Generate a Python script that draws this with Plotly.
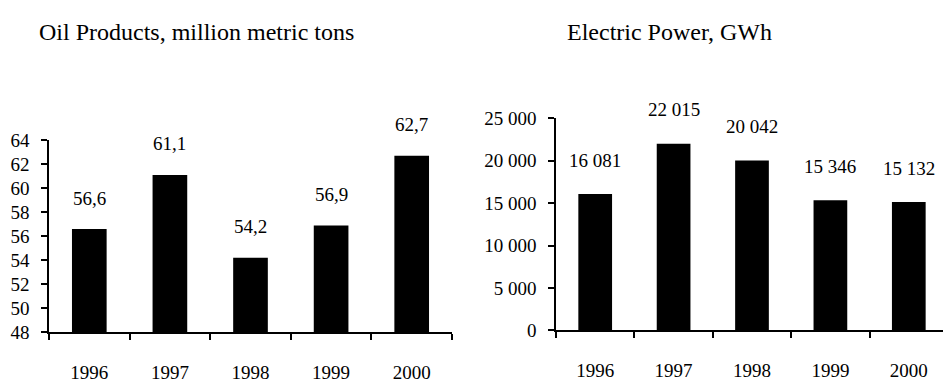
import plotly.graph_objects as go

years = ["1996", "1997", "1998", "1999", "2000"]
oil_values = [56.6, 61.1, 54.2, 56.9, 62.7]
power_values = [16081, 22015, 20042, 15346, 15132]
oil_title = "Oil Products, million metric tons"
power_title = "Electric Power, GWh"

W, H = 943, 383
FONT = "Liberation Serif"

def px_x(p):
    return p / W

def px_y(p):
    return (H - p) / H

fig = go.Figure()
fig.add_trace(go.Bar(x=years, y=oil_values, marker=dict(color="black", line=dict(width=0)),
                     xaxis="x", yaxis="y", hoverinfo="skip"))
fig.add_trace(go.Bar(x=years, y=power_values, marker=dict(color="black", line=dict(width=0)),
                     xaxis="x2", yaxis="y2", hoverinfo="skip"))

annotations = []
for i, v in enumerate(oil_values):
    annotations.append(dict(x=i, y=v, xref="x", yref="y", text=f"{v:.1f}".replace(".", ","),
                            showarrow=False, yshift=31, yanchor="middle",
                            font=dict(family=FONT, size=19, color="black")))
for i, v in enumerate(power_values):
    annotations.append(dict(x=i, y=v, xref="x2", yref="y2", text=f"{v:,}".replace(",", " "),
                            showarrow=False, yshift=34, yanchor="middle",
                            font=dict(family=FONT, size=19, color="black")))
annotations.append(dict(x=px_x(37), y=px_y(23), xref="paper", yref="paper", text=oil_title,
                        showarrow=False, xanchor="left", yanchor="middle",
                        font=dict(family=FONT, size=24, color="black")))
annotations.append(dict(x=px_x(565), y=px_y(23), xref="paper", yref="paper", text=power_title,
                        showarrow=False, xanchor="left", yanchor="middle",
                        font=dict(family=FONT, size=24, color="black")))

axis_common = dict(showline=True, linecolor="black", linewidth=1.5, ticks="outside",
                   ticklen=6, tickcolor="black", tickwidth=1.5, showgrid=False, zeroline=False,
                   tickfont=dict(family=FONT, size=19, color="black"))

fig.update_layout(
    width=W, height=H,
    margin=dict(l=0, r=0, t=0, b=0),
    paper_bgcolor="white", plot_bgcolor="white",
    font=dict(family=FONT, color="black"),
    showlegend=False,
    bargap=0.57,
    separators=", ",
    annotations=annotations,
    xaxis=dict(domain=[px_x(49), px_x(452)], anchor="y", type="category",
               tickson="boundaries", ticklabelstandoff=22, range=[-0.5, 4.5], **axis_common),
    yaxis=dict(domain=[px_y(342), px_y(138)], anchor="x", range=[48, 64], dtick=2,
               ticklabelstandoff=8, **axis_common),
    xaxis2=dict(domain=[px_x(556), 1.0], anchor="y2", type="category",
                tickson="boundaries", ticklabelstandoff=22,
                range=[-0.5, 4.5 - 5 / 78.5], **axis_common),
    yaxis2=dict(domain=[px_y(340), px_y(115)], anchor="x2", range=[0, 25000], dtick=5000,
                tickformat=",d", ticklabelstandoff=8, **axis_common),
)

fig.write_html("out.html")
